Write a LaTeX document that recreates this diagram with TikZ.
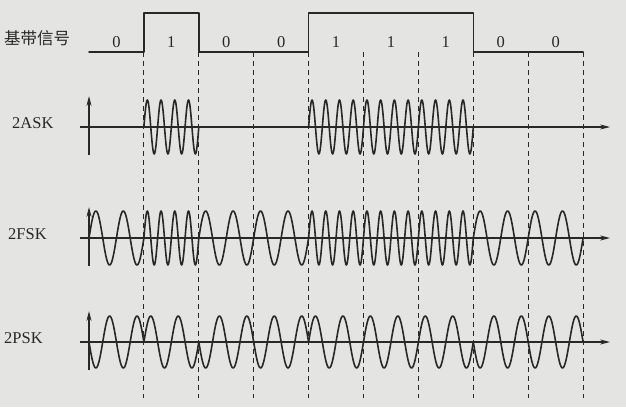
\documentclass[tikz,border=0pt]{standalone}
\usepackage{fontspec}
\setmainfont{Liberation Serif}
\newfontfamily\cjk{Noto Sans CJK SC}
\usetikzlibrary{arrows.meta}
\definecolor{inkc}{RGB}{40,40,40}
\definecolor{bgc}{RGB}{228,228,226}
\begin{document}
\begin{tikzpicture}[x=1pt,y=-1pt,
  wave/.style={draw=inkc, line width=1.6pt, line join=round, line cap=round},
  axisline/.style={draw=inkc, line width=1.2pt, -{Stealth[length=10pt,width=5pt]}},
  guide/.style={draw=inkc, line width=1pt, dash pattern=on 5pt off 4pt},
  lbl/.style={font=\fontsize{16.5}{16.5}\selectfont, text=inkc, inner sep=0pt},
  cjklbl/.style={font=\cjk\fontsize{16.5}{16.5}\selectfont, text=inkc, inner sep=0pt}
]
\fill[bgc] (0,0) rectangle (626,407);
\useasboundingbox (0,0) rectangle (626,407);
\def\xo{89}
\def\bw{54.9}
\def\A{27}
% labels
\node[cjklbl, anchor=west] (lbb) at (4,38) {基带信号};
\node[lbl, anchor=west] (lask) at (12,123) {2ASK};
\node[lbl, anchor=west] (lfsk) at (8,234) {2FSK};
\node[lbl, anchor=west] (lpsk) at (4,338) {2PSK};
% baseband
\draw[wave] (\xo,52) -- ++(\bw,0) -- ++(0,-39) -- ++(\bw,0) -- ++(0,39)
  -- ++(2*\bw,0) -- ++(0,-39) -- ++(3*\bw,0) -- ++(0,39) -- ++(2*\bw,0);
\foreach \b [count=\i from 0] in {0,1,0,0,1,1,1,0,0}
  \node[lbl] (d\i) at ({\xo+(\i+0.5)*\bw},42) {\b};
% dashed guides
\foreach \i in {1,...,9}
  \draw[guide] ({\xo+\i*\bw},52) -- ({\xo+\i*\bw},398);
% axes
\foreach \y in {127,238,342}{
  \draw[axisline] (80,\y) -- (610,\y);
  \draw[axisline] (\xo,\y+28) -- (\xo,\y-31);
}
% 2ASK
\foreach \b [count=\i from 0] in {0,1,0,0,1,1,1,0,0}{
  \ifnum\b=1
    \draw[wave] plot[domain=0:\bw, samples=97, smooth]
      ({\xo+\i*\bw+\x},{127-\A*sin(\x/\bw*1440)});
  \fi
}
% 2FSK
\foreach \b [count=\i from 0] in {0,1,0,0,1,1,1,0,0}{
  \pgfmathsetmacro\nc{(2+2*\b)*360}
  \draw[wave] plot[domain=0:\bw, samples=97, smooth]
    ({\xo+\i*\bw+\x},{238-\A*sin(\x/\bw*\nc)});
}
% 2PSK
\foreach \b [count=\i from 0] in {0,1,0,0,1,1,1,0,0}{
  \pgfmathsetmacro\sg{2*\b-1}
  \draw[wave] plot[domain=0:\bw, samples=73, smooth]
    ({\xo+\i*\bw+\x},{342-\sg*26*sin(\x/\bw*720)});
}
\end{tikzpicture}
\end{document}
